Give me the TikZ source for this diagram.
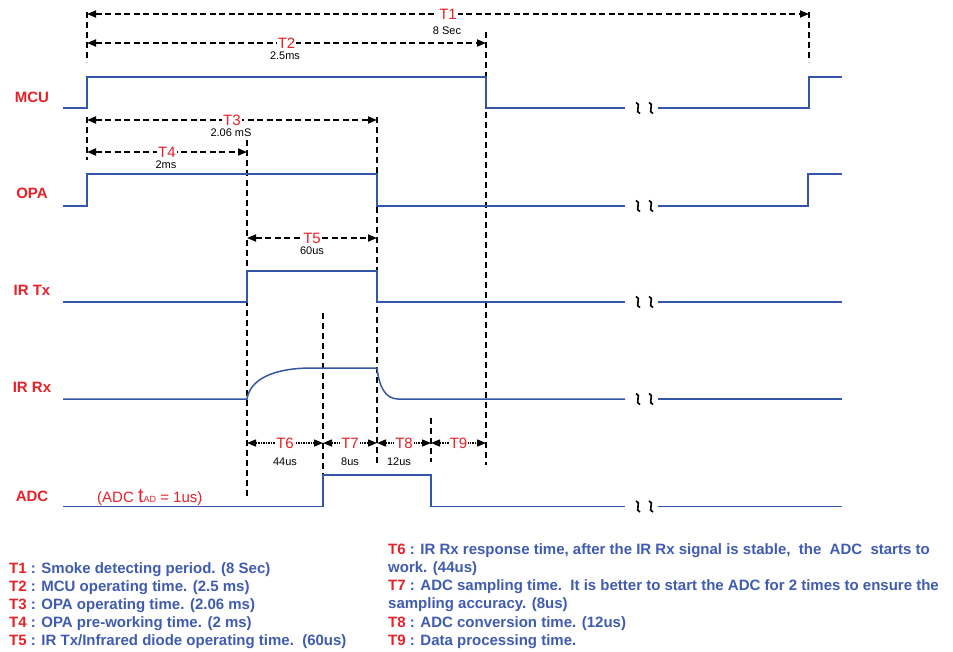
\documentclass[tikz,border=0pt]{standalone}
\usepackage{fontspec}
\setmainfont{Liberation Sans}
\usetikzlibrary{arrows.meta}
\definecolor{sigblue}{RGB}{52,86,168}
\definecolor{lblred}{RGB}{232,32,40}
\definecolor{txtblue}{RGB}{64,92,176}
\tikzset{
  sig/.style={draw=sigblue,line width=1.5pt,line join=miter},
  guide/.style={draw=black,line width=1.8pt,dash pattern=on 6pt off 4pt},
  dimline/.style={draw=black,line width=1.8pt,dash pattern=on 6pt off 3.5pt,
    arrows={Triangle[length=9pt,width=7pt]-Triangle[length=9pt,width=7pt]}},
  dimfine/.style={draw=black,line width=1.4pt,dash pattern=on 1.5pt off 1pt,
    arrows={Triangle[length=9pt,width=7pt]-Triangle[length=9pt,width=7pt]}},
  tlbl/.style={text=lblred,fill=white,inner xsep=1pt,inner ysep=0pt,font=\fontsize{15}{17}\selectfont},
  sublbl/.style={text=black,font=\fontsize{11}{13}\selectfont,inner sep=0pt},
  siglbl/.style={text=lblred,font=\fontsize{15}{17}\selectfont\bfseries,anchor=base,inner sep=0pt},
  desc/.style={anchor=base west,inner sep=0pt,font=\fontsize{15}{18}\selectfont\bfseries,text=txtblue},
  brk/.style={draw=black,line width=1.6pt},
  brkmark/.pic={\draw[brk] (-2,-5.5) .. controls (4,-5) and (-4,5) .. (2,5.5);}
}
\begin{document}
\begin{tikzpicture}[x=1pt,y=-1pt]
\useasboundingbox[fill=white] (0,0) rectangle (953,651);

% ---- vertical guides
\coordinate (g1a) at (87,12);  \coordinate (g1b) at (87,62);
\coordinate (g2a) at (809,12); \coordinate (g2b) at (809,62);
\coordinate (g3a) at (486,32); \coordinate (g3b) at (486,465);
\coordinate (g4a) at (87,117); \coordinate (g4b) at (87,160);
\coordinate (g5a) at (377,117); \coordinate (g5b) at (377,463);
\coordinate (g6a) at (247,140); \coordinate (g6b) at (247,497);
\coordinate (g7a) at (323,313); \coordinate (g7b) at (323,475);
\coordinate (g8a) at (431,418); \coordinate (g8b) at (431,462);
\foreach \g in {1,...,8} {\draw[guide] (g\g a) -- (g\g b);}

% ---- signals
\draw[sig] (63,108) -- (87,108) -- (87,77) -- (486,77) -- (486,108) -- (625,108);
\draw[sig] (658,108) -- (809,108) -- (809,77) -- (842,77);
\draw[sig] (63,206) -- (87,206) -- (87,174) -- (377,174) -- (377,206) -- (625,206);
\draw[sig] (658,206) -- (808,206) -- (808,174) -- (842,174);
\draw[sig] (63,302) -- (247,302) -- (247,271) -- (377,271) -- (377,302) -- (625,302);
\draw[sig] (658,302) -- (842,302);
\draw[sig] (63,399) -- (247,399) .. controls (250,380) and (272,368) .. (312,368) -- (377,368)
   .. controls (379,386) and (385,399) .. (398,399) -- (625,399);
\draw[sig] (658,399) -- (842,399);
\draw[sig] (63,506.5) -- (323,506.5) -- (323,475) -- (431,475) -- (431,506.5) -- (625,506.5);
\draw[sig] (658,506.5) -- (842,506.5);

% ---- break marks
\foreach \y in {108,206,302,399,506.5} {
  \pic at (638,\y) {brkmark};
  \pic at (651,\y) {brkmark};
}

% ---- signal labels
\node[siglbl] (lmcu) at (32,102) {MCU};
\node[siglbl] (lopa) at (32,198) {OPA};
\node[siglbl] (ltx) at (32,295) {IR Tx};
\node[siglbl] (lrx) at (32,392) {IR Rx};
\node[siglbl] (ladc) at (32,501) {ADC};
\node[anchor=base west,inner sep=0pt,text=lblred,font=\fontsize{15}{17}\selectfont] (ltad) at (97,502)
  {(ADC {\fontsize{20}{20}\selectfont t}{\fontsize{9}{9}\selectfont AD} = 1us)};

% ---- dimension arrows
\coordinate (t1a) at (87,14);   \coordinate (t1b) at (809,14);
\coordinate (t2a) at (87,43);   \coordinate (t2b) at (486,43);
\coordinate (t3a) at (87,120);  \coordinate (t3b) at (377,120);
\coordinate (t4a) at (87,152);  \coordinate (t4b) at (247,152);
\coordinate (t5a) at (247,238); \coordinate (t5b) at (377,238);
\coordinate (t6a) at (247,443); \coordinate (t6b) at (323,443);
\coordinate (t7b) at (377,443); \coordinate (t8b) at (431,443);
\coordinate (t9b) at (486,443);

\draw[dimline] (t1a) -- node[tlbl] (T1) {T1} (t1b);
\draw[dimline] (t2a) -- node[tlbl] (T2) {T2} (t2b);
\draw[dimline] (t3a) -- node[tlbl] (T3) {T3} (t3b);
\draw[dimline] (t4a) -- node[tlbl] (T4) {T4} (t4b);
\draw[dimline] (t5a) -- node[tlbl] (T5) {T5} (t5b);
\draw[dimfine] (t6a) -- node[tlbl] (T6) {T6} (t6b);
\draw[dimfine] (t6b) -- node[tlbl] (T7) {T7} (t7b);
\draw[dimfine] (t7b) -- node[tlbl] (T8) {T8} (t8b);
\draw[dimfine] (t8b) -- node[tlbl] (T9) {T9} (t9b);

\node[sublbl] (s1) at (447,31) {8 Sec};
\node[sublbl] (s2) at (285,55.5) {2.5ms};
\node[sublbl] (s3) at (231,132.5) {2.06 mS};
\node[sublbl] (s4) at (166,165) {2ms};
\node[sublbl] (s5) at (312,251) {60us};
\node[sublbl] (s6) at (285,462) {44us};
\node[sublbl] (s7) at (350,462) {8us};
\node[sublbl] (s8) at (399,462) {12us};

% ---- descriptions
\node[desc] (d1) at (9,573) {\textcolor{lblred}{T1} : Smoke detecting period. (8 Sec)};
\node[desc] (d2) at (9,591) {\textcolor{lblred}{T2} : MCU operating time. (2.5 ms)};
\node[desc] (d3) at (9,609) {\textcolor{lblred}{T3} : OPA operating time. (2.06 ms)};
\node[desc] (d4) at (9,627) {\textcolor{lblred}{T4} : OPA pre-working time. (2 ms)};
\node[desc] (d5) at (9,645) {\textcolor{lblred}{T5} : IR Tx/Infrared diode operating time.\ \ (60us)};

\node[desc] (d6) at (388,554) {\textcolor{lblred}{T6} : IR Rx response time, after the IR Rx signal is stable,\ \ the\ \ ADC\ \ starts to};
\node[desc] (d6b) at (388,572) {work. (44us)};
\node[desc] (d7) at (388,590) {\textcolor{lblred}{T7} : ADC sampling time.\ \ It is better to start the ADC for 2 times to ensure the};
\node[desc] (d7b) at (388,608) {sampling accuracy. (8us)};
\node[desc] (d8) at (388,627) {\textcolor{lblred}{T8} : ADC conversion time. (12us)};
\node[desc] (d9) at (388,645) {\textcolor{lblred}{T9} : Data processing time.};
\end{tikzpicture}
\end{document}
